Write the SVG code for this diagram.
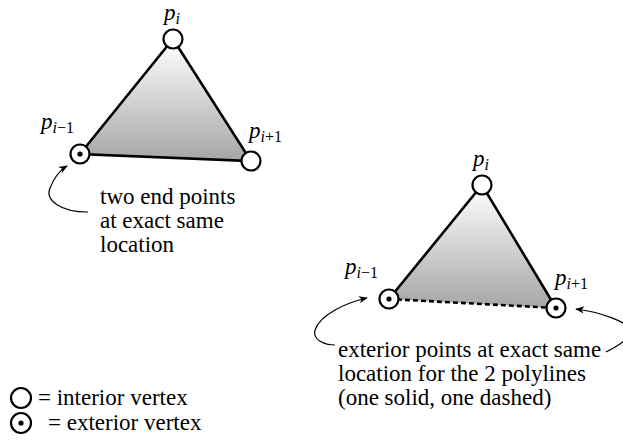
<svg xmlns="http://www.w3.org/2000/svg" width="623" height="446" viewBox="0 0 623 446" font-family="Liberation Serif, DejaVu Serif, serif">
<style>
.txt{font-size:23px;fill:#000}
.lbl{font-size:23px;font-style:italic;fill:#000}
.sub{font-size:16px}
.up{font-style:normal}
.edge{stroke:#000;stroke-width:2.6;fill:none;stroke-linecap:round}
.dash{stroke:#000;stroke-width:2.6;fill:none;stroke-dasharray:5,3}
.vtx{fill:#fff;stroke:#000;stroke-width:2.2}
.dot{fill:#000}
.conn{stroke:#000;stroke-width:1.2;fill:none}
</style>
<defs>
<linearGradient id="g1" gradientUnits="userSpaceOnUse" x1="0" y1="40" x2="0" y2="160">
<stop offset="0" stop-color="#ffffff"/><stop offset="1" stop-color="#a6a6a6"/>
</linearGradient>
<linearGradient id="g2" gradientUnits="userSpaceOnUse" x1="0" y1="185" x2="0" y2="308">
<stop offset="0" stop-color="#ffffff"/><stop offset="1" stop-color="#a6a6a6"/>
</linearGradient>
<marker id="ah" viewBox="0 0 10 10" refX="9" refY="5" markerWidth="9" markerHeight="9" markerUnits="userSpaceOnUse" orient="auto">
<path d="M0,1 L10,5 L0,9 L3,5 Z" fill="#000"/>
</marker>
</defs>

<g id="triangle1">
<polygon points="173,39 80,154 251,161" fill="url(#g1)" stroke="none"/>
<path class="edge" d="M80,154 L173,39 L251,161 Z"/>
</g>
<g id="triangle2">
<polygon points="482,185 389,299 556,308" fill="url(#g2)" stroke="none"/>
<path class="edge" d="M389,299 L482,185 L556,308"/>
<path class="dash" d="M389,299 L556,308"/>
</g>

<g id="connectors">
<path class="conn" marker-end="url(#ah)" d="M88,212 C60,212 45,200 50,188 C54,178 60,170 67,166"/>
<path class="conn" marker-end="url(#ah)" d="M335,345 C325,345 312,340 315,330 C320,315 345,303 367,298"/>
<path class="conn" marker-end="url(#ah)" d="M606,352 C618,346 632,338 630,330 C628,322 600,312 576,309"/>
</g>

<g id="v1-pi">
<circle class="vtx" cx="173" cy="39" r="9.5"/>
<text class="lbl" x="164" y="20">p<tspan class="sub" dy="4">i</tspan></text>
</g>
<g id="v1-pim1">
<circle class="vtx" cx="80" cy="154" r="9.5"/>
<circle class="dot" cx="80" cy="154" r="2.6"/>
<text class="lbl" x="41" y="129">p<tspan class="sub" dy="4">i<tspan class="up">−1</tspan></tspan></text>
</g>
<g id="v1-pip1">
<circle class="vtx" cx="251" cy="161" r="9.5"/>
<text class="lbl" x="249" y="138">p<tspan class="sub" dy="4">i<tspan class="up">+1</tspan></tspan></text>
</g>
<g id="note1">
<text class="txt" x="100" y="204">two end points</text>
<text class="txt" x="100" y="228">at exact same</text>
<text class="txt" x="100" y="252">location</text>
</g>

<g id="v2-pi">
<circle class="vtx" cx="482" cy="185" r="9.5"/>
<text class="lbl" x="473" y="166">p<tspan class="sub" dy="4">i</tspan></text>
</g>
<g id="v2-pim1">
<circle class="vtx" cx="389" cy="299" r="9.5"/>
<circle class="dot" cx="389" cy="299" r="2.6"/>
<text class="lbl" x="345" y="274">p<tspan class="sub" dy="4">i<tspan class="up">−1</tspan></tspan></text>
</g>
<g id="v2-pip1">
<circle class="vtx" cx="556" cy="308" r="9.5"/>
<circle class="dot" cx="556" cy="308" r="2.6"/>
<text class="lbl" x="555" y="285">p<tspan class="sub" dy="4">i<tspan class="up">+1</tspan></tspan></text>
</g>
<g id="note2">
<text class="txt" x="338" y="357">exterior points at exact same</text>
<text class="txt" x="338" y="381">location for the 2 polylines</text>
<text class="txt" x="338" y="405">(one solid, one dashed)</text>
</g>

<g id="legend">
<circle class="vtx" cx="21" cy="398" r="10" stroke-width="2"/>
<text class="txt" x="38" y="405">= interior vertex</text>
<circle class="vtx" cx="21" cy="423" r="10" stroke-width="2"/>
<circle class="dot" cx="21" cy="423" r="2.6"/>
<text class="txt" x="48" y="430">= exterior vertex</text>
</g>
</svg>
